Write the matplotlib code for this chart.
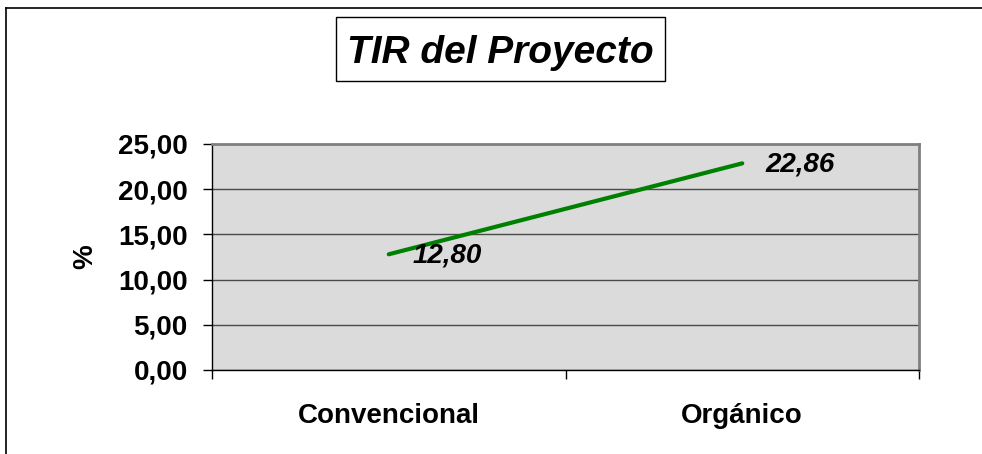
import matplotlib.pyplot as plt
from matplotlib.lines import Line2D
from matplotlib.patches import Rectangle
from matplotlib.ticker import FixedLocator, FuncFormatter

# data
categories = ['Convencional', 'Orgánico']
tir_values = [12.80, 22.86]
y_ticks = [0, 5, 10, 15, 20, 25]

plt.rcParams['font.family'] = ['Liberation Sans', 'DejaVu Sans']

W, H = 982, 454
fig = plt.figure(figsize=(W / 100, H / 100), dpi=100)
fig.patch.set_facecolor('white')

# outer chart border (left and top visible)
fig.add_artist(Line2D([6 / W, 6 / W], [0, 1 - 8 / H], transform=fig.transFigure, color='black', lw=1.2))
fig.add_artist(Line2D([6 / W, 1], [1 - 8 / H, 1 - 8 / H], transform=fig.transFigure, color='black', lw=1.2))

left, right, top, bottom = 212, 919, 144, 370
ax = fig.add_axes([left / W, 1 - bottom / H, (right - left) / W, (bottom - top) / H])
ax.set_facecolor('#dbdbdb')

x = list(range(len(categories)))
ax.plot(x, tir_values, color='#008000', lw=3, solid_capstyle='round', zorder=3)

# data labels
for xi, v in zip(x, tir_values):
    ax.annotate(f'{v:.2f}'.replace('.', ','), (xi, v), xytext=(17, -1), textcoords='offset points',
                ha='left', va='center', fontsize=20, fontweight='bold', style='italic')

ax.set_xlim(-0.5, len(categories) - 0.5)
ax.set_ylim(0, 25)
ax.set_yticks(y_ticks)
ax.yaxis.set_major_formatter(FuncFormatter(lambda v, p: f'{v:.2f}'.replace('.', ',')))
ax.yaxis.grid(True, color='#4a4a4a', lw=1)
ax.set_axisbelow(True)

ax.set_xticks(x)
ax.set_xticklabels(categories, fontsize=20, fontweight='bold')
ax.tick_params(axis='x', length=0, pad=24)
ax.xaxis.set_minor_locator(FixedLocator([-0.5, 0.5, 1.5]))
ax.tick_params(axis='x', which='minor', length=6.5, width=1, direction='out', color='black')
ax.tick_params(axis='y', length=6.5, width=1, direction='out', labelsize=20, pad=11)
for lbl in ax.get_yticklabels():
    lbl.set_fontweight('bold')

ax.set_ylabel('%', fontsize=20, fontweight='bold', labelpad=14)

for s in ['top', 'right']:
    ax.spines[s].set_color('#808080')
    ax.spines[s].set_linewidth(2)
for s in ['left', 'bottom']:
    ax.spines[s].set_color('black')
    ax.spines[s].set_linewidth(1)

# title with box
fig.add_artist(Rectangle((336 / W, 1 - 81 / H), (665 - 336) / W, 64 / H, transform=fig.transFigure,
                         facecolor='white', edgecolor='black', lw=1))
fig.text(500 / W, 1 - 63 / H, 'TIR del Proyecto', ha='center', va='baseline', fontsize=28,
         fontweight='bold', style='italic')

fig.savefig('out.png', dpi=100)
